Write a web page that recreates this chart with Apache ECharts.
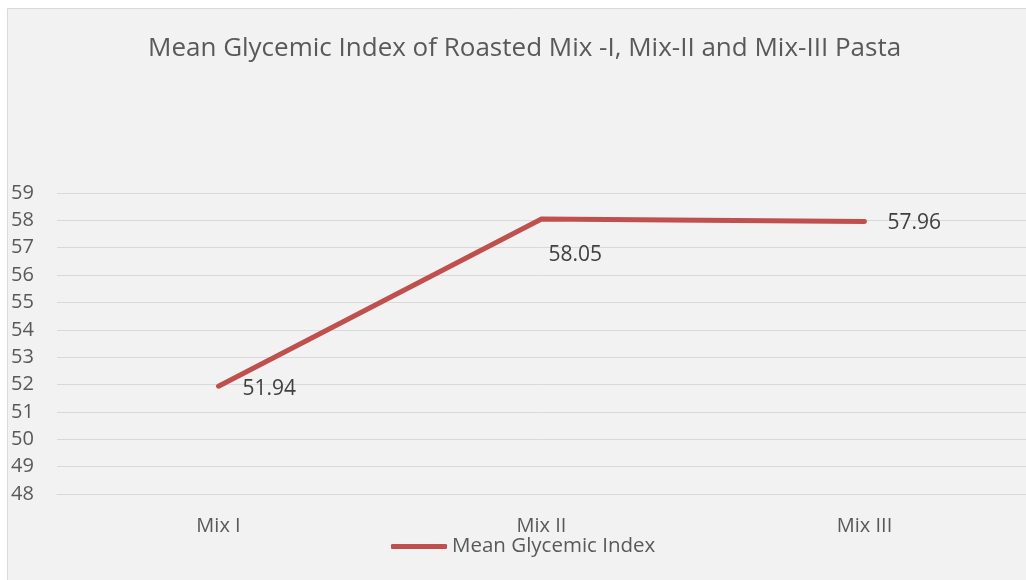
<!DOCTYPE html>
<html><head><meta charset="utf-8">
<script src="https://cdn.jsdelivr.net/npm/echarts@6/dist/echarts.min.js"></script>
<style>html,body{margin:0;padding:0;background:#fff}#c{width:1026px;height:580px}</style>
</head><body><div id="c"></div>
<script>
const categories = ['Mix I', 'Mix II', 'Mix III'];
const meanGI = [51.94, 58.05, 57.96];
const seriesName = 'Mean Glycemic Index';
const titleText = 'Mean Glycemic Index of Roasted Mix -I, Mix-II and Mix-III Pasta';

const labelStyles = [
  {position: 'right', distance: 24, offset: [0, 3]},
  {position: 'right', distance: 7, offset: [0, 36]},
  {position: 'right', distance: 23, offset: [0, 2]}
];
const FONT = '"Open Sans", sans-serif';
const chart = echarts.init(document.getElementById('c'));
chart.setOption({
  backgroundColor: '#ffffff',
  animation: false,
  graphic: [{type: 'rect', z: -10, shape: {x: 7.5, y: 8.5, width: 1030, height: 580},
    style: {fill: '#f2f2f2', stroke: '#d9d9d9', lineWidth: 1}}],
  title: {text: titleText, left: 143, top: 31,
    textStyle: {fontFamily: FONT, fontSize: 26, fontWeight: 'normal', color: '#595959'}},
  legend: {data: [{name: seriesName, icon: 'roundRect'}], left: 391, top: 536, padding: 0,
    itemWidth: 56, itemHeight: 5, itemGap: 5,
    textStyle: {fontFamily: FONT, fontSize: 20.5, color: '#595959', padding: [0,0,0,0]}},
  grid: {left: 57, top: 193, width: 970, bottom: 86},
  xAxis: {type: 'category', data: categories, boundaryGap: true,
    axisLine: {lineStyle: {color: '#d9d9d9', width: 1}}, axisTick: {show: false},
    axisLabel: {fontFamily: FONT, fontSize: 20, color: '#595959', margin: 22}},
  yAxis: {type: 'value', min: 48, max: 59, interval: 1,
    axisLine: {show: false}, axisTick: {show: false},
    splitLine: {lineStyle: {color: '#d9d9d9', width: 1}},
    axisLabel: {fontFamily: FONT, fontSize: 20, color: '#595959', align: 'left', margin: 46}},
  series: [{name: seriesName, type: 'line', symbol: 'circle', symbolSize: 0, showSymbol: true,
    lineStyle: {color: '#c0504d', width: 5, cap: 'round', join: 'round'},
    itemStyle: {color: '#c0504d'},
    data: meanGI.map((v, i) => ({value: v, label: Object.assign({show: true,
      fontFamily: FONT, fontSize: 21, color: '#404040'}, labelStyles[i])}))
  }]
});
</script></body></html>
